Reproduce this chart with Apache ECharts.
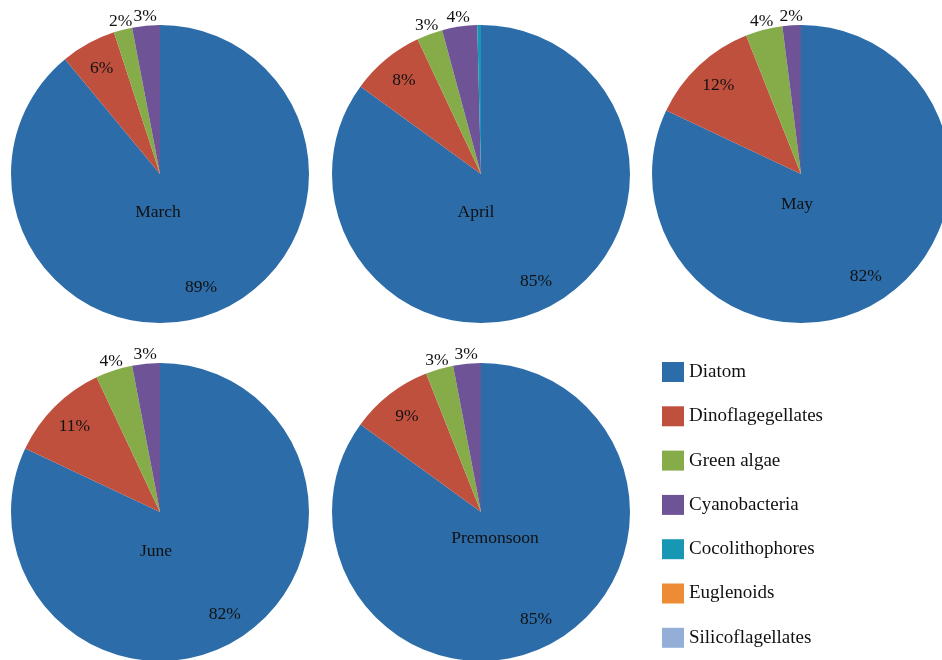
<!DOCTYPE html>
<html>
<head>
<meta charset="utf-8">
<script src="https://cdn.jsdelivr.net/npm/echarts@6/dist/echarts.min.js"></script>
<style>html,body{margin:0;padding:0;background:#fff}</style>
</head>
<body>
<div id="main" style="width: 942px; height: 660px"></div>
<script>
// groups and values (percent)
var groups = ["Diatom", "Dinoflagegellates", "Green algae", "Cyanobacteria", "Cocolithophores", "Euglenoids", "Silicoflagellates"];
var months = ["March", "April", "May", "June", "Premonsoon"];
var march = [89, 6, 2, 3, 0, 0, 0];
var april = [85, 8, 2.8, 3.8, 0.4, 0, 0];
var may = [82, 12, 4, 2, 0, 0, 0];
var june = [82, 11, 4, 3, 0, 0, 0];
var premonsoon = [85, 9, 3, 3, 0, 0, 0];
var values = [march, april, may, june, premonsoon];

var colors = ["#2c6ca8", "#c0503e", "#86ac4a", "#6e5496", "#1797b3", "#ee8b35", "#93afd8"];
var centers = [[160, 174], [481, 174], [801, 174], [160, 512], [481, 512]];
var nameSpots = [[153, 198], [471, 198], [792, 190], [151, 537], [490, 524]];
var font = "Liberation Serif";

var innerIdx = [0, 1];   // labels drawn on the slice
var outerIdx = [2, 3];   // labels drawn just outside the rim

function pieData(vals) {
  return vals.map(function (v, i) {
    return { name: groups[i], value: v, itemStyle: { color: colors[i] } };
  });
}

function labelFor(idx) {
  return function (p) {
    return idx.indexOf(p.dataIndex) >= 0 && p.value > 0 ? Math.round(p.value) + "%" : "";
  };
}

var series = [];
var titles = [];
months.forEach(function (m, k) {
  // the real pie
  series.push({
    name: m,
    type: "pie",
    center: centers[k],
    radius: 149,
    startAngle: 90,
    silent: true,
    label: { show: false },
    labelLine: { show: false },
    data: pieData(values[k]),
  });
  // transparent rings only used to place the labels
  [[102, 134, innerIdx], [145, 165, outerIdx]].forEach(function (ring) {
    series.push({
      name: m + "-labels",
      type: "pie",
      center: centers[k],
      radius: [ring[0], ring[1]],
      startAngle: 90,
      silent: true,
      avoidLabelOverlap: false,
      itemStyle: { color: "transparent" },
      label: {
        show: true,
        position: "inside",
        formatter: labelFor(ring[2]),
        fontFamily: font,
        fontSize: 17.5,
        color: "#111",
      },
      labelLine: { show: false },
      data: values[k].map(function (v, i) {
        return { name: groups[i], value: v, itemStyle: { color: "transparent" } };
      }),
    });
  });
  titles.push({
    text: m,
    left: nameSpots[k][0],
    top: nameSpots[k][1],
    textAlign: "center",
    textStyle: { fontFamily: font, fontSize: 17.5, fontWeight: "normal", color: "#111" },
  });
});

var myChart = echarts.init(document.getElementById("main"));
myChart.setOption({
  animation: false,
  title: titles,
  legend: {
    orient: "vertical",
    left: 657,
    top: 357,
    icon: "rect",
    itemWidth: 22,
    itemHeight: 20,
    itemGap: 24.3,
    textStyle: { fontFamily: font, fontSize: 19, color: "#111", lineHeight: 20 },
    data: groups.map(function (g, i) {
      return { name: g, itemStyle: { color: colors[i] } };
    }),
  },
  series: series,
});
</script>
</body>
</html>
